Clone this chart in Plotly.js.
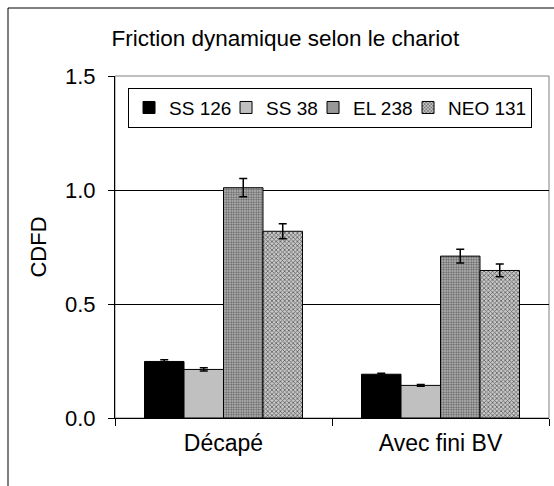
<!DOCTYPE html>
<html><head><meta charset="utf-8">
<script src="https://cdn.plot.ly/plotly-3.0.1.min.js"></script>
<style>html,body{margin:0;padding:0;background:#fff}#chart{width:554px;height:486px}</style>
</head><body><div id="chart"></div>
<script>
const categories = ["Décapé", "Avec fini BV"];
const seriesNames = ["SS 126", "SS 38", "EL 238", "NEO 131"];
const ss126 = [0.248, 0.192];
const ss126Err = [0.008, 0.004];
const ss38 = [0.213, 0.143];
const ss38Err = [0.007, 0.004];
const el238 = [1.010, 0.710];
const el238Err = [0.040, 0.030];
const neo131 = [0.819, 0.647];
const neo131Err = [0.033, 0.028];
const yTicks = [0, 0.5, 1.0, 1.5];
const yTickText = ["0.0", "0.5", "1.0", "1.5"];

const styles = [
  {color: "#000000", pattern: {shape: ""}, lw: 52},
  {color: "#c0c0c0", pattern: {shape: ""}, lw: 42},
  {color: "#a8a8a8", pattern: {shape: ".", size: 2.5, solidity: 0.5, fgcolor: "#606060", bgcolor: "#c4c4c4", fillmode: "replace"}, lw: 50},
  {color: "#a8a8a8", pattern: {shape: "x", size: 3, solidity: 0.45, fgcolor: "#606060", bgcolor: "#c8c8c8", fillmode: "replace"}, lw: 78}
];
const vals = [ss126, ss38, el238, neo131];
const errs = [ss126Err, ss38Err, el238Err, neo131Err];
const traces = vals.map((v, i) => ({
  type: "bar", name: seriesNames[i], x: categories, y: v, legendwidth: styles[i].lw,
  marker: {color: styles[i].color, pattern: styles[i].pattern, line: {color: "#000", width: 1}},
  error_y: {type: "data", array: errs[i], visible: true, color: "#000", thickness: 1.5, width: 4}
}));

const layout = {
  width: 554, height: 486,
  margin: {l: 115, r: 5, t: 76, b: 68},
  paper_bgcolor: "#fff", plot_bgcolor: "#fff",
  font: {family: "Liberation Sans, Arial, sans-serif", size: 22, color: "#000"},
  barmode: "group", bargap: 0.272, bargroupgap: 0,
  title: {text: "Friction dynamique selon le chariot", font: {size: 22.5}, x: 0.515, xref: "container", xanchor: "center", y: 1 - 38/486, yref: "container", yanchor: "middle"},
  xaxis: {showline: true, linecolor: "#000", linewidth: 1, ticks: "outside", tickson: "boundaries", ticklen: 7, tickcolor: "#000", showgrid: false, zeroline: false, tickfont: {size: 23}, ticklabelstandoff: 4},
  yaxis: {range: [0, 1.5], tickvals: yTicks, ticktext: yTickText, showline: true, linecolor: "#000", linewidth: 1, ticks: "outside", ticklen: 6, tickcolor: "#000",
    showgrid: true, gridcolor: "#000", gridwidth: 1, zeroline: false, tickfont: {size: 22}, ticklabelstandoff: 8,
    title: {text: "CDFD", font: {size: 22}, standoff: 12}},
  legend: {orientation: "h", x: 0.03, y: 0.966, xanchor: "left", yanchor: "top", bordercolor: "#000", borderwidth: 1, bgcolor: "#fff", font: {size: 19}, itemwidth: 30, traceorder: "normal"},
  shapes: [
    {type: "rect", xref: "paper", yref: "paper", x0: 0, x1: 1, y0: 0, y1: 1, line: {color: "#808080", width: 1}, layer: "below"},
    {type: "rect", xref: "paper", yref: "paper", x0: -107/434, x1: 1.05, y0: -0.3, y1: 1 + 68/342, line: {color: "#000", width: 1}, layer: "below"}
  ],
  showlegend: true
};
Plotly.newPlot("chart", traces, layout, {displayModeBar: false, staticPlot: true});
</script></body></html>
